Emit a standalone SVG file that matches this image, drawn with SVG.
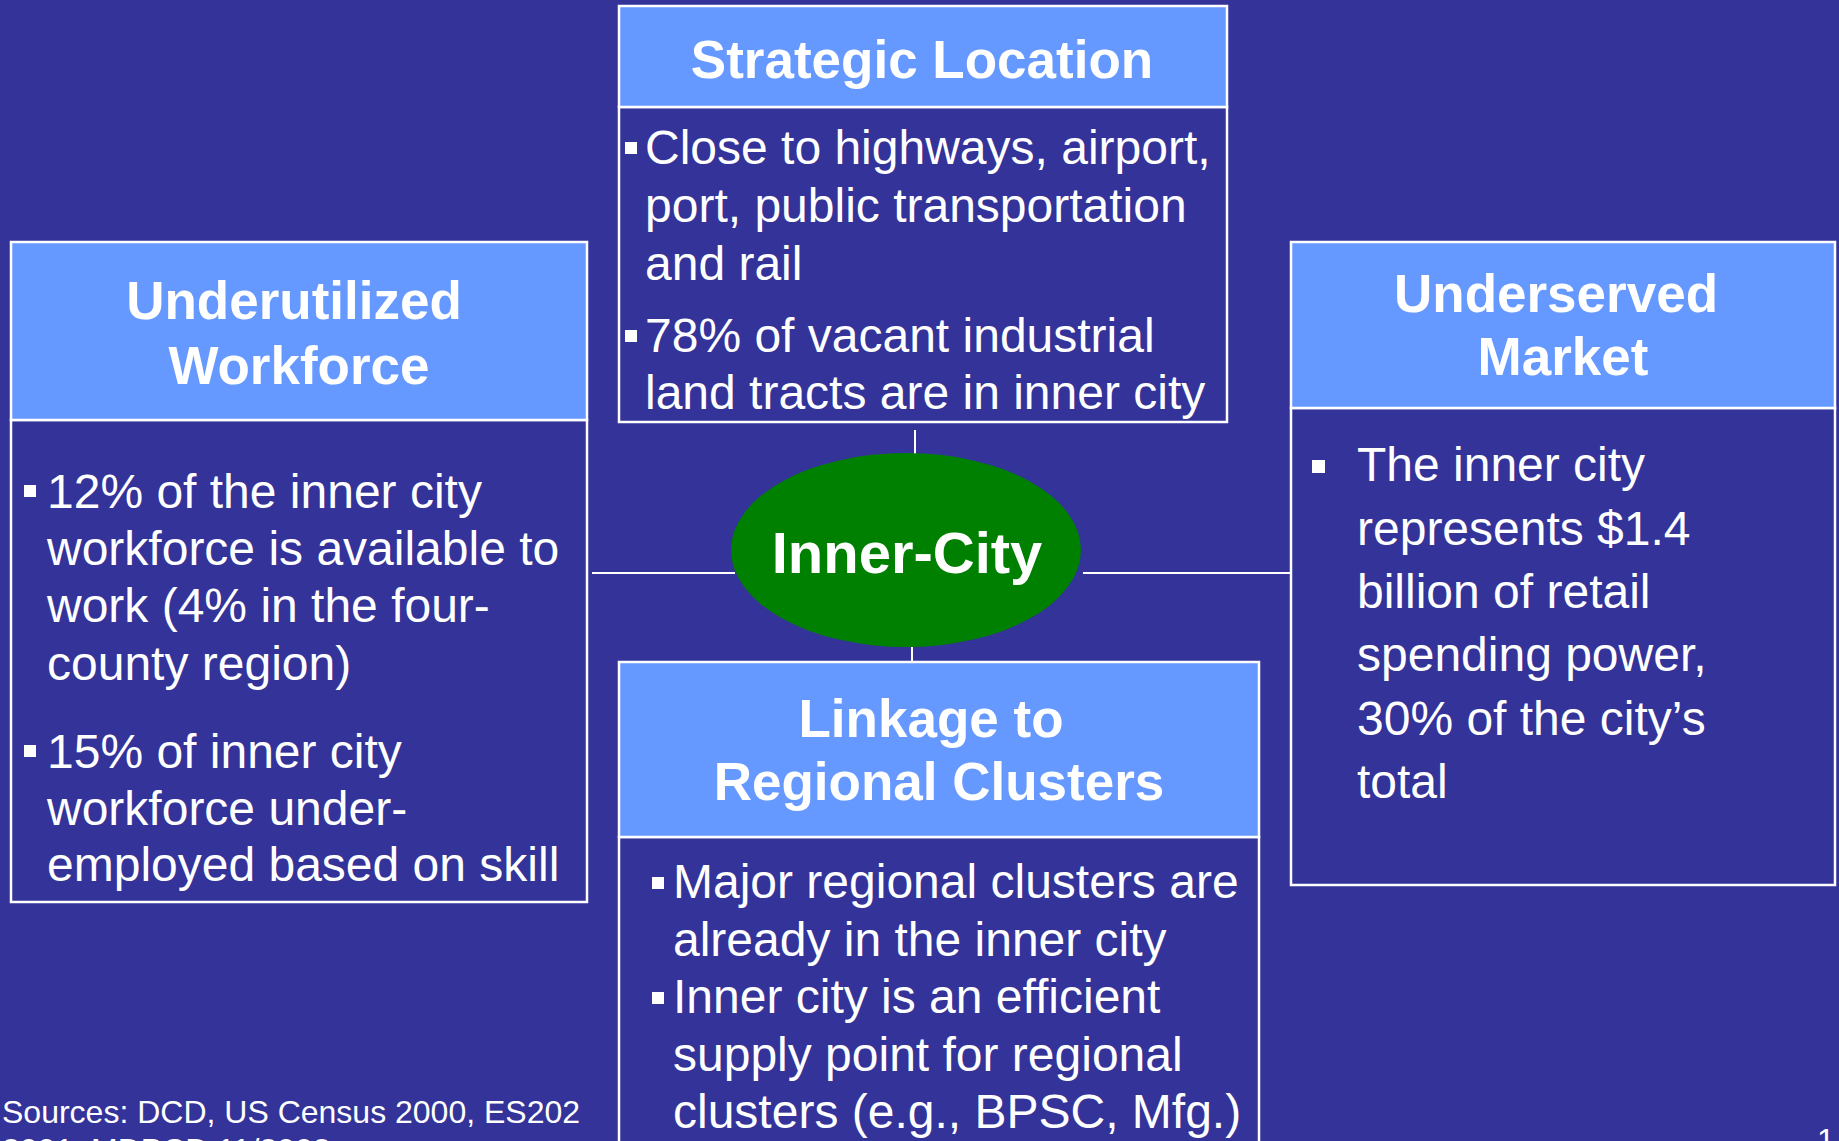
<svg xmlns="http://www.w3.org/2000/svg" width="1839" height="1141" viewBox="0 0 1839 1141">
<style>
.hdr{fill:#6699FF;stroke:#FFFFFF;stroke-width:2.5}
.body{fill:#333399;stroke:#FFFFFF;stroke-width:2.5}
.h{font-family:"Liberation Sans",Arial,sans-serif;font-weight:bold;font-size:53px;fill:#FFFFFF;text-anchor:middle}
.t{font-family:"Liberation Sans",Arial,sans-serif;font-size:48px;fill:#FFFFFF}
.s{font-family:"Liberation Sans",Arial,sans-serif;font-size:32px;fill:#FFFFFF}
.b{fill:#FFFFFF}
.c{stroke:#FFFFFF;stroke-width:2;fill:none}
</style>
<rect x="0" y="0" width="1839" height="1141" fill="#333399"/>
<g id="connectors">
<line class="c" x1="915" y1="430" x2="915" y2="454"/>
<line class="c" x1="912" y1="647" x2="912" y2="662"/>
<line class="c" x1="592" y1="573" x2="735" y2="573"/>
<line class="c" x1="1083" y1="573" x2="1291" y2="573"/>
</g>
<g id="strategic-location">
<rect class="body" x="619" y="107" width="608" height="315"/>
<rect class="hdr" x="619" y="6" width="608" height="101"/>
<text class="h" x="922" y="78">Strategic Location</text>
<rect class="b" x="625" y="142" width="12" height="12"/>
<text class="t" x="645" y="164">Close to highways, airport,</text>
<text class="t" x="645" y="222">port, public transportation</text>
<text class="t" x="645" y="280">and rail</text>
<rect class="b" x="625" y="330" width="12" height="12"/>
<text class="t" x="645" y="352">78% of vacant industrial</text>
<text class="t" x="645" y="409">land tracts are in inner city</text>
</g>
<g id="underutilized-workforce">
<rect class="body" x="11" y="420" width="576" height="482"/>
<rect class="hdr" x="11" y="242" width="576" height="178"/>
<text class="h" x="294" y="319">Underutilized</text>
<text class="h" x="299" y="384">Workforce</text>
<rect class="b" x="24" y="485" width="12" height="12"/>
<text class="t" x="47" y="508">12% of the inner city</text>
<text class="t" x="47" y="565">workforce is available to</text>
<text class="t" x="47" y="622">work (4% in the four-</text>
<text class="t" x="47" y="680">county region)</text>
<rect class="b" x="24" y="745" width="12" height="12"/>
<text class="t" x="47" y="768">15% of inner city</text>
<text class="t" x="47" y="825">workforce under-</text>
<text class="t" x="47" y="881">employed based on skill</text>
</g>
<g id="underserved-market">
<rect class="body" x="1291" y="408" width="544" height="477"/>
<rect class="hdr" x="1291" y="242" width="544" height="166"/>
<text class="h" x="1556" y="312">Underserved</text>
<text class="h" x="1563" y="375">Market</text>
<rect class="b" x="1312" y="460" width="13" height="13"/>
<text class="t" x="1357" y="481">The inner city</text>
<text class="t" x="1357" y="545">represents $1.4</text>
<text class="t" x="1357" y="608">billion of retail</text>
<text class="t" x="1357" y="671">spending power,</text>
<text class="t" x="1357" y="735">30% of the city’s</text>
<text class="t" x="1357" y="798">total</text>
</g>
<g id="inner-city">
<ellipse cx="906" cy="550" rx="175" ry="97" fill="#008000"/>
<text class="h" x="907" y="573" style="font-size:58px">Inner-City</text>
</g>
<g id="linkage-regional-clusters">
<rect class="body" x="619" y="837" width="640" height="320"/>
<rect class="hdr" x="619" y="662" width="640" height="175"/>
<text class="h" x="931" y="737">Linkage to</text>
<text class="h" x="939" y="800">Regional Clusters</text>
<rect class="b" x="652" y="877" width="12" height="12"/>
<text class="t" x="673" y="898">Major regional clusters are</text>
<text class="t" x="673" y="956">already in the inner city</text>
<rect class="b" x="652" y="992" width="12" height="12"/>
<text class="t" x="673" y="1013">Inner city is an efficient</text>
<text class="t" x="673" y="1071">supply point for regional</text>
<text class="t" x="673" y="1128">clusters (e.g., BPSC, Mfg.)</text>
</g>
<g id="footer">
<text class="s" x="2" y="1123">Sources: DCD, US Census 2000, ES202</text>
<text class="s" x="2" y="1161">2001, MDPCD 11/2002</text>
<text class="s" x="1817" y="1151">1</text>
</g>
</svg>
